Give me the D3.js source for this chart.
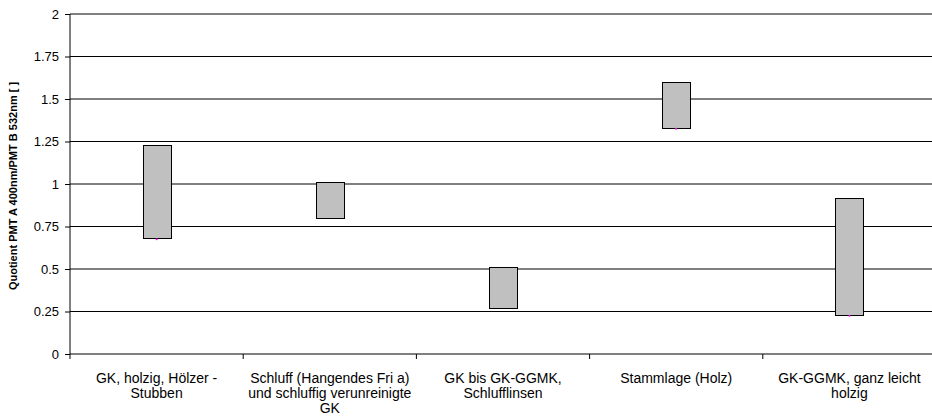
<!DOCTYPE html>
<html>
<head>
<meta charset="utf-8">
<script src="https://cdn.jsdelivr.net/npm/d3@7"></script>
<style>
  body { margin: 0; background: #fff; }
  text { font-family: "Liberation Sans", Arial, sans-serif; }
</style>
</head>
<body>
<svg id="chart"></svg>
<script>
// categories (lines of each label) and the high / low values of each bar
var categories = [
  ["GK, holzig, Hölzer -", "Stubben"],
  ["Schluff (Hangendes Fri a)", "und schluffig verunreinigte", "GK"],
  ["GK bis GK-GGMK,", "Schlufflinsen"],
  ["Stammlage (Holz)"],
  ["GK-GGMK, ganz leicht", "holzig"]
];
var highValues = [1.23, 1.01, 0.51, 1.60, 0.92];
var lowValues = [0.68, 0.80, 0.27, 1.33, 0.23];
var markerValues = [0.675, null, null, 1.325, 0.225];
var yTicks = [0, 0.25, 0.5, 0.75, 1, 1.25, 1.5, 1.75, 2];
var yTitle = "Quotient PMT A 400nm/PMT B 532nm [ ]";

var margin = { top: 14, right: -4, bottom: 62, left: 70 },
  width = 932 - margin.left - margin.right,
  height = 416 - margin.top - margin.bottom;

var svg = d3.select("#chart")
  .attr("width", 932)
  .attr("height", 416);

var g = svg.append("g")
  .attr("transform", "translate(" + margin.left + "," + margin.top + ")");

var x = d3.scaleBand()
  .domain(d3.range(categories.length))
  .range([0, width]);

var y = d3.scaleLinear()
  .domain([0, 2])
  .range([height, 0]);

// grid lines
g.selectAll(".grid")
  .data(yTicks.filter(function (d) { return d > 0; }))
  .enter().append("line")
  .attr("x1", 0)
  .attr("x2", width)
  .attr("y1", function (d) { return y(d); })
  .attr("y2", function (d) { return y(d); })
  .attr("stroke", "#000")
  .attr("stroke-width", 1);

// y axis
var yAxis = g.append("g")
  .call(d3.axisLeft(y).tickValues(yTicks).tickSize(5).tickPadding(6)
    .tickFormat(function (d) { return String(d); }));
yAxis.select(".domain").attr("d", "M0,0V" + height).attr("stroke", "#000");
yAxis.selectAll("text").attr("font-size", 13).attr("fill", "#000");

// x axis
var xAxis = g.append("g")
  .attr("transform", "translate(0," + height + ")");
xAxis.append("line")
  .attr("x1", 0).attr("x2", width)
  .attr("stroke", "#000");
xAxis.selectAll(".xtick")
  .data(d3.range(categories.length + 1))
  .enter().append("line")
  .attr("x1", function (d) { return d * x.bandwidth(); })
  .attr("x2", function (d) { return d * x.bandwidth(); })
  .attr("y1", 0).attr("y2", 5)
  .attr("stroke", "#000");

var labels = xAxis.selectAll(".xlabel")
  .data(categories)
  .enter().append("text")
  .attr("text-anchor", "middle")
  .attr("font-size", 14)
  .attr("fill", "#000")
  .attr("transform", function (d, i) {
    return "translate(" + (x(i) + x.bandwidth() / 2) + ",0)";
  });
labels.selectAll("tspan")
  .data(function (d) { return d; })
  .enter().append("tspan")
  .attr("x", 0)
  .attr("y", function (d, i) { return 29 + i * 15; })
  .text(function (d) { return d; });

// bars
var barW = 28;
g.selectAll(".bar")
  .data(highValues)
  .enter().append("rect")
  .attr("x", function (d, i) { return Math.round(x(i) + x.bandwidth() / 2 - barW / 2) + 0.5; })
  .attr("width", barW)
  .attr("y", function (d) { return Math.round(y(d)) + 0.5; })
  .attr("height", function (d, i) { return Math.round(y(lowValues[i])) - Math.round(y(d)); })
  .attr("fill", "#c0c0c0")
  .attr("stroke", "#000")
  .attr("stroke-width", 1);

// small markers under the bars
g.selectAll(".marker")
  .data(markerValues.map(function (v, i) { return { v: v, i: i }; })
    .filter(function (d) { return d.v != null; }))
  .enter().append("circle")
  .attr("cx", function (d) { return x(d.i) + x.bandwidth() / 2; })
  .attr("cy", function (d) { return y(d.v); })
  .attr("r", 1)
  .attr("fill", "#ff00ff");

// y title
svg.append("text")
  .attr("transform", "translate(17," + (margin.top + height / 2 + 2) + ") rotate(-90)")
  .attr("text-anchor", "middle")
  .attr("font-size", 11)
  .attr("font-weight", "bold")
  .attr("fill", "#000")
  .text(yTitle);
</script>
</body>
</html>
